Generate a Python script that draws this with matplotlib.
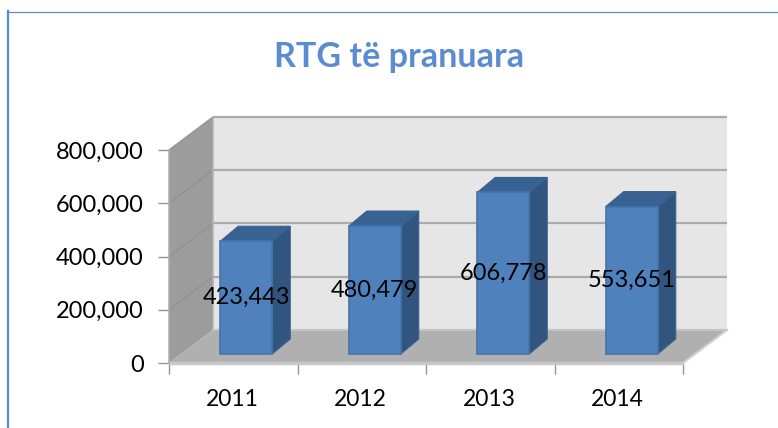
import matplotlib
matplotlib.use("Agg")
import matplotlib.pyplot as plt
from matplotlib.patches import Polygon
from matplotlib.ticker import FuncFormatter

years = ["2011", "2012", "2013", "2014"]
values = [423443, 480479, 606778, 553651]
y_ticks = [0, 200000, 400000, 600000, 800000]

W, H = 778, 428
plt.rcParams["font.family"] = ["Lato", "DejaVu Sans"]

fig = plt.figure(figsize=(W / 100, H / 100), dpi=100)
ax = fig.add_axes([169 / W, (H - 363) / H, 514 / W, 213 / H])
ax.set_xlim(0, 4)
ax.set_ylim(0, 800000)

# pixels -> data units, the fake 3D depth is a plain shear
px_x = 4 / 514
px_y = 800000 / 213
wall_dx, wall_dy = 44 * px_x, 33 * px_y
top = y_ticks[-1]


def poly(points, color, z, edge="none", lw=0):
    ax.add_patch(Polygon(points, closed=True, facecolor=color, edgecolor=edge,
                         linewidth=lw, zorder=z, clip_on=False))


# walls and floor
poly([(wall_dx, wall_dy), (4 + wall_dx, wall_dy), (4 + wall_dx, top + wall_dy), (wall_dx, top + wall_dy)],
     "#e6e6e6", 1)
poly([(0, 0), (wall_dx, wall_dy), (wall_dx, top + wall_dy), (0, top)], "#9c9c9c", 2)
poly([(0, 0), (4, 0), (4 + wall_dx, wall_dy), (wall_dx, wall_dy)], "#b0b0b0", 2)

# gridlines on back wall and side wall
for t in y_ticks[1:]:
    ax.plot([wall_dx, 4 + wall_dx], [t + wall_dy] * 2, color="#ababab", lw=1.6, zorder=3,
            clip_on=False, solid_capstyle="butt")
    ax.plot([0, wall_dx], [t, t + wall_dy], color="#929292", lw=1.0, zorder=3, clip_on=False)
ax.plot([wall_dx, wall_dx], [wall_dy, top + wall_dy], color="#b4b4b4", lw=1.2, zorder=3, clip_on=False)
ax.plot([wall_dx, 4 + wall_dx], [wall_dy, wall_dy], color="#c4c4c4", lw=1.5, zorder=3, clip_on=False)
ax.plot([4, 4 + wall_dx], [0, wall_dy], color="#d0d0d0", lw=1.5, zorder=3, clip_on=False)
ax.plot([0, 4], [0, 0], color="#c8c8c8", lw=2.5, zorder=3, clip_on=False, solid_capstyle="butt")
ax.plot([0, 0], [0, top], color="#b0b0b0", lw=1.2, zorder=3, clip_on=False)

# bars
bar_w = 52 * px_x
bar_dx, bar_dy = 18 * px_x, 15 * px_y
off_x, off_y = 13 * px_x, 9 * px_y
for i, v in enumerate(values):
    x0 = i + 0.5 + off_x - bar_w / 2
    x1 = x0 + bar_w
    y0, y1 = off_y, off_y + v
    poly([(x1, y0), (x1 + bar_dx, y0 + bar_dy), (x1 + bar_dx, y1 + bar_dy), (x1, y1)],
         "#32557f", 5, "#3a6290", 0.8)
    poly([(x0, y1), (x1, y1), (x1 + bar_dx, y1 + bar_dy), (x0 + bar_dx, y1 + bar_dy)],
         "#386292", 5, "#3a6290", 0.8)
    poly([(x0, y0), (x1, y0), (x1, y1), (x0, y1)], "#4f81bd", 6, "#4474ad", 1.2)
    ax.text((x0 + x1) / 2, y0 + v / 2, f"{v:,}", ha="center", va="center",
            fontsize=17, color="black", zorder=8)

for s in ax.spines.values():
    s.set_visible(False)
ax.set_yticks(y_ticks)
ax.yaxis.set_major_formatter(FuncFormatter(lambda v, _: f"{int(v):,}"))
ax.set_xticks(range(5))
ax.set_xticklabels([])
ax.set_xticks([i + 0.49 for i in range(4)], labels=years, minor=True)
ax.tick_params(axis="y", length=8, width=1.0, color="#959595", labelsize=17, pad=10)
ax.tick_params(axis="x", which="major", length=8, width=1.0, color="#959595")
ax.tick_params(axis="x", which="minor", length=0, labelsize=16.5, pad=19)

fig.text(399 / W, 1 - 57 / H, "RTG të pranuara", ha="center", va="center",
         fontsize=24.6, fontweight="bold", color="#5b8bd0")

# frame of the embedded picture, top and left edges only
fig.add_artist(plt.Line2D([8 / W, 8 / W], [0, 1 - 11 / H], color="#5b8bd0", lw=1.6))
fig.add_artist(plt.Line2D([7 / W, 1], [1 - 12 / H] * 2, color="#5b8bd0", lw=0.9))

fig.savefig("out.png", dpi=100)
